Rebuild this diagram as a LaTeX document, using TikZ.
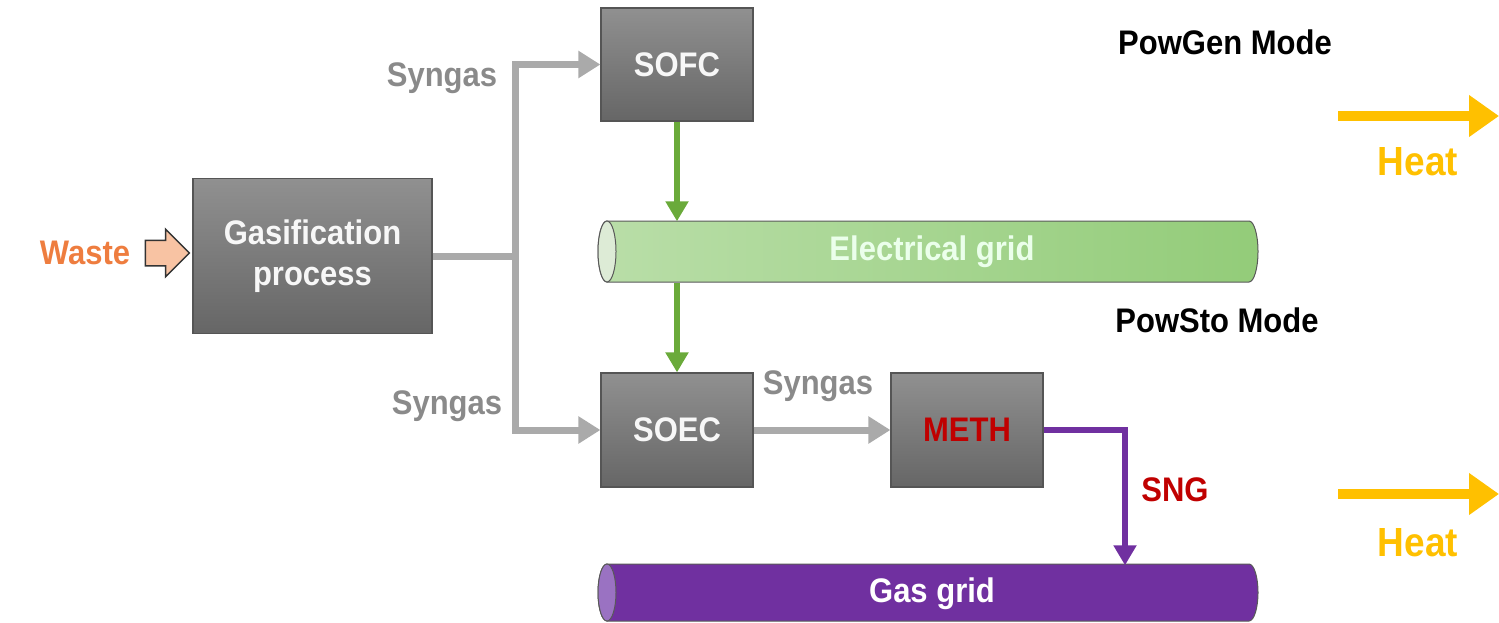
\documentclass[tikz,border=0pt]{standalone}
\usepackage{fontspec}
\usepackage{graphicx}
\setmainfont{Liberation Sans}
\usetikzlibrary{arrows.meta,shapes.arrows,calc}
\newcommand\tallt[1]{\scalebox{1}[1.1]{#1}}
\definecolor{boxtop}{HTML}{909090}
\definecolor{boxbot}{HTML}{666666}
\definecolor{boxedge}{HTML}{555555}
\definecolor{syn}{HTML}{AAAAAA}
\definecolor{syntext}{HTML}{8A8A8A}
\definecolor{elgreen}{HTML}{6AAA3A}
\definecolor{gridL}{HTML}{B9DEA8}
\definecolor{gridR}{HTML}{93CC79}
\definecolor{gridend}{HTML}{DDEBD6}
\definecolor{purp}{HTML}{7030A0}
\definecolor{purpend}{HTML}{9A72C2}
\definecolor{heat}{HTML}{FFC000}
\definecolor{wastec}{HTML}{EE7D3F}
\definecolor{wastefill}{HTML}{F8C3A3}
\definecolor{methred}{HTML}{C00000}
\begin{document}
\begin{tikzpicture}[x=1pt,y=-1pt,
  font=\fontsize{31}{35}\selectfont\bfseries,
  unitbox/.style={rectangle, draw=boxedge, line width=1.2pt, top color=boxtop, bottom color=boxbot,
    text=white!94!gray, minimum width=152pt, minimum height=114pt, inner sep=0pt, align=center},
  synline/.style={draw=syn, line width=7pt},
  synarrow/.style={synline, -{Triangle[length=22pt,width=26pt]}},
  greenarrow/.style={draw=elgreen, line width=6pt, -{Triangle[length=20pt,width=22pt]}},
  purparrow/.style={draw=purp, line width=6pt, -{Triangle[length=20pt,width=22pt]}},
  heatarrow/.style={draw=heat, line width=10pt, -{Triangle[length=30pt,width=40pt]}},
  pipeedge/.style={draw=gray!70!black, line width=1pt},
  lbl/.style={inner sep=0pt, anchor=center}
]
\useasboundingbox (0,0) rectangle (1499,622);

% boxes
\node[unitbox, minimum width=239pt, minimum height=155pt] (gas) at (312.5,256) {\tallt{Gasification}\\[6pt]\tallt{process}};
\node[unitbox, minimum height=113pt] (sofc) at (677,64.5) {\tallt{SOFC}};
\node[unitbox] (soec) at (677,430) {\tallt{SOEC}};
\node[unitbox, text=methred] (meth) at (967,430) {\tallt{METH}};

% waste input
\node[lbl, text=wastec] (waste) at (85,253) {\tallt{Waste}};
\node[single arrow, draw=black!80, line width=1.5pt, fill=wastefill, inner sep=12pt,
  minimum height=44pt, single arrow head extend=11pt] (wastearrow) at (161,253) {};

% electrical grid pipe
\draw[pipeedge, left color=gridL, right color=gridR]
  (607,221) -- (1249,221) arc[start angle=-90, end angle=90, x radius=9, y radius=30.5]
  -- (607,282) arc[start angle=90, end angle=270, x radius=9, y radius=30.5] -- cycle;
\draw[pipeedge, fill=gridend] (607,251.5) ellipse [x radius=9, y radius=30.5];
\node[lbl, minimum width=642pt, minimum height=61pt, text=white!92!green] (egrid) at (932,252) {\tallt{Electrical grid}};

% gas grid pipe
\draw[pipeedge, fill=purp]
  (607,564) -- (1249,564) arc[start angle=-90, end angle=90, x radius=9, y radius=28.5]
  -- (607,621) arc[start angle=90, end angle=270, x radius=9, y radius=28.5] -- cycle;
\draw[pipeedge, fill=purpend] (607,592.5) ellipse [x radius=9, y radius=28.5];
\node[lbl, minimum width=642pt, minimum height=57pt, text=white] (ggrid) at (932,594) {\tallt{Gas grid}};

% syngas connectors
\coordinate (split) at (515,256);
\draw[synarrow] (split) |- (sofc.west);
\draw[synarrow] (split) |- (soec.west);
\draw[synline] (gas.east |- split) -- ([xshift=3.5pt]split);
\draw[synarrow] (soec.east) -- (meth.west);
\node[lbl, text=syntext] (syn1) at (442,78) {\tallt{Syngas}};
\node[lbl, text=syntext] (syn2) at (447,406) {\tallt{Syngas}};
\node[lbl, text=syntext] (syn3) at (818,386) {\tallt{Syngas}};

% electricity
\draw[greenarrow] (sofc.south) -- (sofc.south |- egrid.north);
\draw[greenarrow] (sofc.south |- egrid.south) -- (soec.north);

% SNG
\coordinate (sngx) at (1125,0);
\draw[purparrow] (meth.east) -| (sngx |- ggrid.north);
\node[lbl, text=methred] (sng) at (1175,490) {\tallt{SNG}};

% modes
\node[lbl, text=black] (powgen) at (1225,42) {\tallt{PowGen Mode}};
\node[lbl, text=black] (powsto) at (1217,320) {\tallt{PowSto Mode}};

% heat
\coordinate (h1s) at (1338,116);
\coordinate (h1e) at (1499,116);
\draw[heatarrow] (h1s) -- (h1e);
\node[lbl, text=heat, font=\fontsize{37}{40}\selectfont\bfseries] (heat1) at (1418,162) {\tallt{Heat}};
\coordinate (h2s) at (1338,494);
\coordinate (h2e) at (1499,494);
\draw[heatarrow] (h2s) -- (h2e);
\node[lbl, text=heat, font=\fontsize{37}{40}\selectfont\bfseries] (heat2) at (1418,543) {\tallt{Heat}};
\end{tikzpicture}
\end{document}
